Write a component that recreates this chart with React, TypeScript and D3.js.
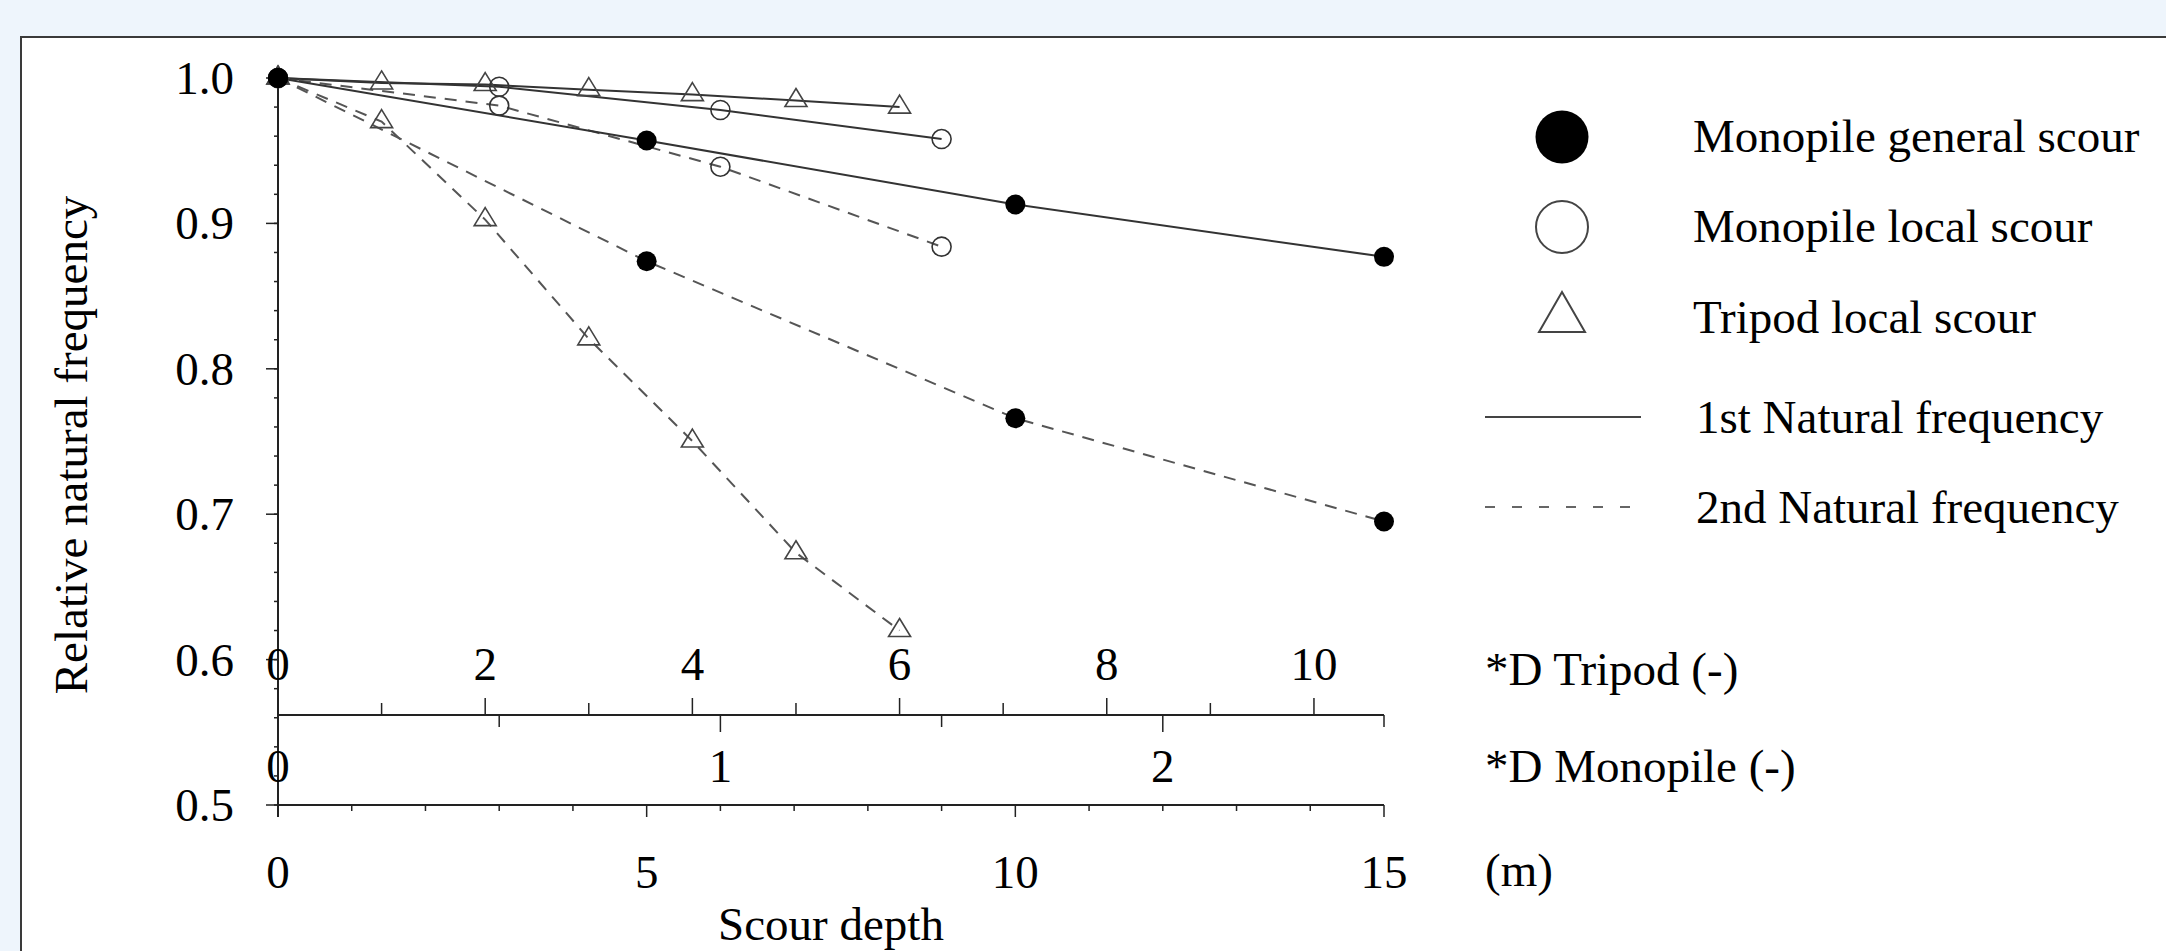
import React from "react";
import * as d3 from "d3";

// ---- data ----
const tripodD = [0, 1, 2, 3, 4, 5, 6];
const tripod1st = [1.0, 0.9966, 0.9955, 0.992, 0.9886, 0.9845, 0.98];
const tripod2nd = [1.0, 0.97, 0.9026, 0.8206, 0.7503, 0.6735, 0.62];

const monoLocalD = [0, 0.5, 1.0, 1.5];
const monoLocal1st = [1.0, 0.994, 0.978, 0.958];
const monoLocal2nd = [1.0, 0.981, 0.939, 0.884];

const monoGeneralM = [0, 5, 10, 15];
const monoGeneral1st = [1.0, 0.957, 0.913, 0.877];
const monoGeneral2nd = [1.0, 0.874, 0.766, 0.695];

const yTickValues = [0.5, 0.6, 0.7, 0.8, 0.9, 1.0];
const tripodTickValues = [0, 2, 4, 6, 8, 10];
const monoTickValues = [0, 1, 2];
const meterTickValues = [0, 5, 10, 15];

const legendItems = [
  "Monopile general scour",
  "Monopile local scour",
  "Tripod local scour",
  "1st Natural frequency",
  "2nd Natural frequency",
];

const MONO_D_M = 6; // monopile diameter (m)
const TRIPOD_D_M = 1.405; // tripod pile diameter (m)
const MAX_M = 15;

export default function App() {
  const W = 2166;
  const H = 951;
  const x0 = 278;
  const x1 = 1384;
  const yTop = 78;
  const yBot = 805;
  const yTripAxis = 715;

  const y = d3.scaleLinear().domain([0.5, 1.0]).range([yBot, yTop]);
  const xm = d3.scaleLinear().domain([0, MAX_M]).range([x0, x1]);
  const xMono = d3.scaleLinear().domain([0, MAX_M / MONO_D_M]).range([x0, x1]);
  const xTri = d3.scaleLinear().domain([0, MAX_M / TRIPOD_D_M]).range([x0, x1]);

  const font = "'Liberation Serif', 'Times New Roman', serif";
  const fs = 47;

  const mk = (xs: number[], ys: number[], sx: d3.ScaleLinear<number, number>) =>
    d3
      .line<number>()
      .x((_, i) => sx(xs[i]))
      .y((v) => y(v))(ys) || "";

  const solid = { stroke: "#333", strokeWidth: 2, fill: "none" };
  const dashed = { stroke: "#555", strokeWidth: 2, fill: "none", strokeDasharray: "12,9" };

  const tri = (cx: number, cy: number, w: number, h: number) =>
    `M${cx},${cy - (2 * h) / 3}L${cx + w / 2},${cy + h / 3}L${cx - w / 2},${cy + h / 3}Z`;

  // minor y ticks every 0.02
  const yMinor = d3.range(0.5, 1.0001, 0.02);
  const meterMinor = d3.range(0, MAX_M + 0.001, 1);
  const triMinor = d3.range(0, 10.5, 1);
  const monoMinor = d3.range(0.5, 2.51, 0.5);

  const legX = 1562;
  const legTextX = 1693;
  const legBase = [152, 242, 333, 433, 523];

  return (
    <svg
      width={W}
      height={H}
      style={{ position: "absolute", left: 0, top: 0, display: "block" }}
      fontFamily={font}
    >
      <rect x={0} y={0} width={W} height={H} fill="#EEF5FC" />
      <rect x={21} y={37} width={W} height={H} fill="#fff" stroke="#3a3a3a" strokeWidth={2} />

      {/* Y axis */}
      <line x1={x0} x2={x0} y1={yTop} y2={817} stroke="#222" strokeWidth={2} />
      {yMinor.map((v, i) => (
        <line key={"ym" + i} x1={x0 - 4} x2={x0} y1={y(v)} y2={y(v)} stroke="#222" strokeWidth={1.5} />
      ))}
      {yTickValues.map((v) => (
        <g key={"yt" + v}>
          <line x1={x0 - 12} x2={x0} y1={y(v)} y2={y(v)} stroke="#222" strokeWidth={1.5} />
          <text x={234} y={y(v) + 16} fontSize={fs} textAnchor="end" fill="#000">
            {v.toFixed(1)}
          </text>
        </g>
      ))}
      <text
        transform={`translate(87,445) rotate(-90)`}
        fontSize={fs}
        textAnchor="middle"
        fill="#000"
      >
        Relative natural frequency
      </text>

      {/* Tripod / Monopile D axis */}
      <line x1={x0} x2={x1} y1={yTripAxis} y2={yTripAxis} stroke="#222" strokeWidth={2} />
      {triMinor.map((v) => (
        <line
          key={"tm" + v}
          x1={xTri(v)}
          x2={xTri(v)}
          y1={yTripAxis}
          y2={yTripAxis - (v % 2 === 0 ? 17 : 12)}
          stroke="#222"
          strokeWidth={1.5}
        />
      ))}
      {monoMinor.map((v) => (
        <line
          key={"mm" + v}
          x1={xMono(v)}
          x2={xMono(v)}
          y1={yTripAxis}
          y2={yTripAxis + (Number.isInteger(v) ? 17 : 12)}
          stroke="#222"
          strokeWidth={1.5}
        />
      ))}
      {tripodTickValues.map((v) => (
        <text key={"tt" + v} x={xTri(v)} y={680} fontSize={fs} textAnchor="middle" fill="#000">
          {v}
        </text>
      ))}
      {monoTickValues.map((v) => (
        <text key={"mt" + v} x={xMono(v)} y={782} fontSize={fs} textAnchor="middle" fill="#000">
          {v}
        </text>
      ))}

      {/* meter axis */}
      <line x1={x0} x2={x1} y1={yBot} y2={yBot} stroke="#222" strokeWidth={2} />
      {meterMinor.map((v) => (
        <line
          key={"me" + v}
          x1={xm(v)}
          x2={xm(v)}
          y1={yBot}
          y2={yBot + (v % 5 === 0 ? 12 : 6)}
          stroke="#222"
          strokeWidth={1.5}
        />
      ))}
      {meterTickValues.map((v) => (
        <text key={"mtx" + v} x={xm(v)} y={888} fontSize={fs} textAnchor="middle" fill="#000">
          {v}
        </text>
      ))}
      <text x={(x0 + x1) / 2} y={940} fontSize={fs} textAnchor="middle" fill="#000">
        Scour depth
      </text>

      <text x={1485} y={685} fontSize={fs} fill="#000">*D Tripod (-)</text>
      <text x={1485} y={782} fontSize={fs} fill="#000">*D Monopile (-)</text>
      <text x={1485} y={886} fontSize={fs} fill="#000">(m)</text>

      {/* lines */}
      <path d={mk(tripodD, tripod1st, xTri)} {...solid} />
      <path d={mk(tripodD, tripod2nd, xTri)} {...dashed} />
      <path d={mk(monoLocalD, monoLocal1st, xMono)} {...solid} />
      <path d={mk(monoLocalD, monoLocal2nd, xMono)} {...dashed} />
      <path d={mk(monoGeneralM, monoGeneral1st, xm)} {...solid} />
      <path d={mk(monoGeneralM, monoGeneral2nd, xm)} {...dashed} />

      {/* markers */}
      {[tripod1st, tripod2nd].map((s, si) =>
        s.map((v, i) => (
          <path
            key={"tr" + si + "-" + i}
            d={tri(xTri(tripodD[i]), y(v), 22, 18)}
            fill="none"
            stroke="#444"
            strokeWidth={1.6}
          />
        ))
      )}
      {[monoLocal1st, monoLocal2nd].map((s, si) =>
        s.map((v, i) => (
          <circle
            key={"ol" + si + "-" + i}
            cx={xMono(monoLocalD[i])}
            cy={y(v)}
            r={9.5}
            fill="none"
            stroke="#333"
            strokeWidth={1.6}
          />
        ))
      )}
      {[monoGeneral1st, monoGeneral2nd].map((s, si) =>
        s.map((v, i) => (
          <circle key={"fg" + si + "-" + i} cx={xm(monoGeneralM[i])} cy={y(v)} r={10} fill="#000" />
        ))
      )}

      {/* legend */}
      <circle cx={legX} cy={137} r={26.5} fill="#000" />
      <circle cx={legX} cy={227} r={26} fill="none" stroke="#444" strokeWidth={2} />
      <path d={tri(legX, 318.7, 46, 40)} fill="none" stroke="#444" strokeWidth={2} />
      <line x1={1485} x2={1641} y1={417} y2={417} stroke="#444" strokeWidth={2} />
      <line x1={1485} x2={1641} y1={507} y2={507} stroke="#666" strokeWidth={2} strokeDasharray="10,17" />
      {legendItems.map((t, i) => (
        <text key={t} x={i >= 3 ? legTextX + 3 : legTextX} y={legBase[i]} fontSize={fs} fill="#000">
          {t}
        </text>
      ))}
    </svg>
  );
}
